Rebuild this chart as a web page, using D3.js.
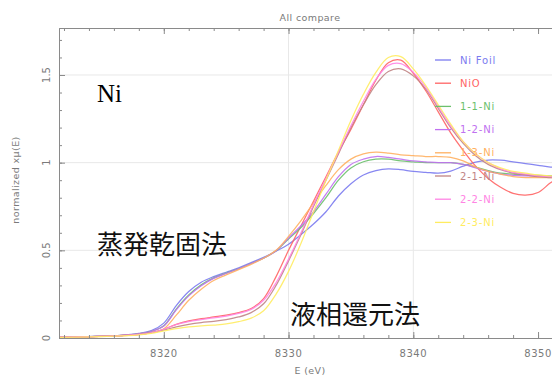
<!DOCTYPE html>
<html><head><meta charset="utf-8">
<script src="https://cdn.jsdelivr.net/npm/d3@7"></script>
<style>body{margin:0;background:#fff;}svg{display:block;}</style>
</head><body>
<svg id="c" width="552" height="376"></svg>
<script>
const energy = [8311.6,8314,8316,8318,8319,8320,8321,8322,8323,8324,8325,8326,8327,8328,8329,8330,8331,8332,8333,8334,8335,8336,8337,8338,8339,8340,8341,8342,8343,8344,8345,8346,8347,8348,8349,8350,8351,8352];
const niFoil = [0.005,0.008,0.012,0.026,0.042,0.085,0.185,0.265,0.318,0.35,0.375,0.4,0.43,0.46,0.495,0.535,0.59,0.65,0.72,0.81,0.88,0.93,0.955,0.965,0.96,0.95,0.945,0.94,0.952,0.98,1.003,1.015,1.014,1.005,0.995,0.985,0.975,0.97];
const niO = [0.005,0.008,0.012,0.02,0.03,0.05,0.078,0.098,0.11,0.12,0.13,0.145,0.168,0.225,0.35,0.5,0.64,0.78,0.92,1.06,1.19,1.33,1.47,1.57,1.585,1.51,1.41,1.29,1.17,1.07,0.98,0.91,0.86,0.825,0.815,0.83,0.885,0.93];
const s11 = [0.005,0.008,0.012,0.024,0.038,0.07,0.165,0.245,0.303,0.343,0.37,0.395,0.425,0.455,0.497,0.565,0.63,0.71,0.8,0.9,0.97,1.005,1.02,1.02,1.01,1.005,1.0,1.0,1.0,0.99,0.975,0.955,0.94,0.935,0.93,0.928,0.925,0.925];
const s12 = [0.005,0.008,0.012,0.024,0.038,0.068,0.16,0.24,0.298,0.34,0.368,0.395,0.425,0.455,0.498,0.57,0.64,0.72,0.82,0.92,0.99,1.02,1.035,1.03,1.02,1.01,1.005,1.0,1.0,0.99,0.97,0.95,0.935,0.928,0.924,0.922,0.92,0.92];
const s13 = [0.004,0.007,0.01,0.019,0.03,0.052,0.13,0.215,0.278,0.328,0.36,0.39,0.42,0.455,0.5,0.58,0.67,0.77,0.87,0.96,1.02,1.05,1.06,1.055,1.045,1.04,1.035,1.035,1.03,1.01,0.975,0.95,0.935,0.92,0.915,0.915,0.915,0.915];
const s21 = [0.005,0.008,0.012,0.02,0.03,0.045,0.064,0.078,0.088,0.095,0.105,0.12,0.145,0.195,0.3,0.44,0.59,0.75,0.9,1.05,1.2,1.33,1.445,1.52,1.535,1.495,1.42,1.31,1.2,1.11,1.04,0.99,0.96,0.94,0.93,0.92,0.915,0.91];
const s22 = [0.005,0.008,0.012,0.02,0.03,0.05,0.077,0.094,0.105,0.115,0.125,0.14,0.163,0.215,0.315,0.45,0.6,0.76,0.91,1.06,1.21,1.35,1.475,1.555,1.565,1.515,1.43,1.32,1.21,1.12,1.05,1.0,0.965,0.945,0.935,0.925,0.92,0.915];
const s23 = [0.004,0.007,0.01,0.018,0.026,0.04,0.053,0.063,0.069,0.074,0.08,0.093,0.113,0.155,0.25,0.38,0.54,0.72,0.9,1.07,1.24,1.39,1.515,1.6,1.605,1.535,1.44,1.33,1.22,1.12,1.05,1.0,0.97,0.95,0.94,0.93,0.925,0.92];
const seriesNames = ["Ni Foil","NiO","1-1-Ni","1-2-Ni","1-3-Ni","2-1-Ni","2-2-Ni","2-3-Ni"];
const seriesValues = [niFoil,niO,s11,s12,s13,s21,s22,s23];
const seriesColors = ["#7a7af0","#ff6464","#6cc06c","#c070f0","#ffb060","#c08484","#ff84e4","#ffec60"];
const xTicks = [8320,8330,8340,8350];
const gridX = [8330,8340];
const yTicks = [0,0.5,1,1.5];
const yTickLabels = ["0","0.5","1","1.5"];

const svg = d3.select("#c");
const L=59, T=28, B=338, R=563;
const x = d3.scaleLinear().domain([8311.6,8352]).range([L,R]);
const y = d3.scaleLinear().domain([0,1.768]).range([B,T]);
const gray="#8a8a8a", txt="#7a7a7a";
const font="DejaVu Sans, sans-serif";

// gridlines
svg.append("g").selectAll("line").data(gridX).join("line")
  .attr("x1",d=>x(d)).attr("x2",d=>x(d)).attr("y1",T).attr("y2",B)
  .attr("stroke","#e8e8e8").attr("stroke-width",1);
svg.append("g").selectAll("line").data(yTicks.filter(d=>d>0)).join("line")
  .attr("x1",L).attr("x2",R).attr("y1",d=>y(d)).attr("y2",d=>y(d))
  .attr("stroke","#e8e8e8").attr("stroke-width",1);

// curves
svg.append("clipPath").attr("id","clip").append("rect")
  .attr("x",L).attr("y",T).attr("width",R-L).attr("height",B-T);
const line = d3.line().x((d,i)=>x(energy[i])).y(d=>y(d)).curve(d3.curveCatmullRom.alpha(0.5));
svg.append("g").attr("clip-path","url(#clip)").selectAll("path").data(seriesValues).join("path")
  .attr("d",line).attr("fill","none")
  .attr("stroke",(d,i)=>seriesColors[i]).attr("stroke-width",1.25).attr("stroke-opacity",0.9);

// axes (inward ticks)
const xMinor = d3.range(8312,8353,2);
const yMinor = d3.range(0,1.77,0.1);
function styleAxis(g){g.select(".domain").attr("stroke",gray);g.selectAll(".tick line").attr("stroke",gray);g.selectAll("text").remove();}
svg.append("g").attr("transform",`translate(0,${B})`).call(d3.axisBottom(x).tickValues(xMinor).tickSizeInner(-3).tickSizeOuter(0)).call(styleAxis);
svg.append("g").attr("transform",`translate(0,${B})`).call(d3.axisBottom(x).tickValues(xTicks).tickSizeInner(-6).tickSizeOuter(0)).call(styleAxis);
svg.append("g").attr("transform",`translate(0,${T})`).call(d3.axisTop(x).tickValues(xMinor).tickSizeInner(-3).tickSizeOuter(0)).call(styleAxis);
svg.append("g").attr("transform",`translate(0,${T})`).call(d3.axisTop(x).tickValues(xTicks).tickSizeInner(-6).tickSizeOuter(0)).call(styleAxis);
svg.append("g").attr("transform",`translate(${L},0)`).call(d3.axisLeft(y).tickValues(yMinor).tickSizeInner(-3).tickSizeOuter(0)).call(styleAxis);
svg.append("g").attr("transform",`translate(${L},0)`).call(d3.axisLeft(y).tickValues(yTicks).tickSizeInner(-6).tickSizeOuter(0)).call(styleAxis);

// tick labels
svg.append("g").selectAll("text").data(xTicks).join("text")
  .attr("x",d=>x(d)).attr("y",357).attr("text-anchor","middle")
  .attr("font-family",font).attr("font-size",10).attr("fill",txt).attr("letter-spacing",0.5).text(d=>d);
svg.append("g").selectAll("text").data(yTicks).join("text")
  .attr("transform",d=>`translate(50,${y(d)}) rotate(-90)`).attr("text-anchor","middle")
  .attr("font-family",font).attr("font-size",10).attr("fill",txt).text((d,i)=>yTickLabels[i]);

// titles
svg.append("text").attr("x",310).attr("y",21).attr("text-anchor","middle")
  .attr("font-family",font).attr("font-size",9.5).attr("fill",txt).attr("letter-spacing",0.4).text("All compare");
svg.append("text").attr("x",310).attr("y",374).attr("text-anchor","middle")
  .attr("font-family",font).attr("font-size",9.5).attr("fill",txt).attr("letter-spacing",0.4).text("E (eV)");
svg.append("text").attr("transform","translate(19,180) rotate(-90)").attr("text-anchor","middle")
  .attr("font-family",font).attr("font-size",9.5).attr("fill",txt).attr("letter-spacing",0.4).text("normalized xμ(E)");

// legend
const lg = svg.append("g").selectAll("g").data(seriesNames).join("g")
  .attr("transform",(d,i)=>`translate(435,${60+i*23.2})`);
lg.append("line").attr("x1",0).attr("x2",16).attr("stroke",(d,i)=>seriesColors[i]).attr("stroke-width",1.3);
lg.append("text").attr("x",25).attr("y",3.5).attr("font-family",font).attr("font-size",10)
  .attr("letter-spacing",0.8).attr("fill",(d,i)=>seriesColors[i]).text(d=>d);

// annotations
svg.append("text").attr("x",97).attr("y",102).attr("font-family","Liberation Serif, serif").attr("font-size",25).attr("fill","#000").text("Ni");
svg.append("text").attr("x",97).attr("y",254).attr("font-family","Noto Sans CJK JP, sans-serif").attr("font-size",26).attr("fill","#111").text("蒸発乾固法");
svg.append("text").attr("x",290).attr("y",324).attr("font-family","Noto Sans CJK JP, sans-serif").attr("font-size",26).attr("fill","#111").text("液相還元法");
</script>
</body></html>
